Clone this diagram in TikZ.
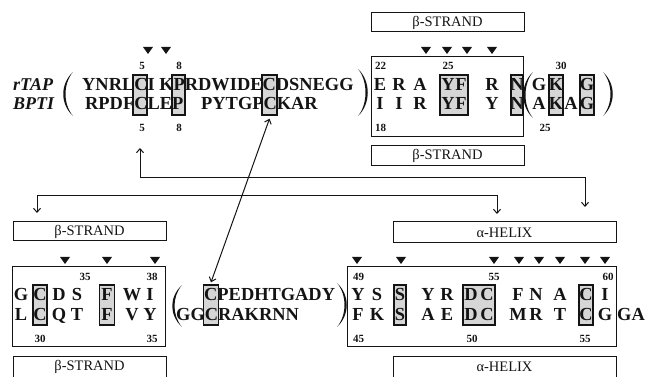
\documentclass[tikz,border=0pt]{standalone}
\usepackage{fontspec}
\setmainfont{Liberation Serif}
\usepackage{xcolor}
\usepackage{tikz}
\usetikzlibrary{calc,positioning,arrows.meta}
\definecolor{SeqInk}{HTML}{141414}
\definecolor{SeqShade}{HTML}{D6D6D6}
\newcommand{\seqfont}{\fontsize{18.4}{18.4}\selectfont\bfseries}
\newcommand{\numfont}{\fontsize{11}{11}\selectfont\bfseries}
\newcommand{\labfont}{\fontsize{14.5}{14.5}\selectfont}
\newcommand{\openpar}[3]{\fill[SeqInk] (#1,#2) .. controls (#1-13,#2+12) and (#1-13,#3-12) .. (#1,#3) .. controls (#1-10,#3-12) and (#1-10,#2+12) .. (#1,#2) -- cycle;}
\newcommand{\closepar}[3]{\fill[SeqInk] (#1,#2) .. controls (#1+13,#2+12) and (#1+13,#3-12) .. (#1,#3) .. controls (#1+10,#3-12) and (#1+10,#2+12) .. (#1,#2) -- cycle;}
\newcommand{\marktri}[2]{\fill[SeqInk] (#1-5,#2-3) -- (#1+5,#2-3) -- (#1,#2+4) -- cycle;}
\tikzset{
  res/.style={anchor=base,font=\seqfont,inner sep=0pt,text=SeqInk},
  seq/.style={anchor=base west,font=\seqfont,inner sep=0pt,text=SeqInk},
  num/.style={anchor=base,font=\numfont,inner sep=0pt,text=SeqInk},
  tag/.style={anchor=base west,font=\fontsize{18}{18}\selectfont\bfseries\itshape,inner sep=0pt,text=SeqInk},
  resbox/.style={draw=SeqInk,fill=SeqShade,line width=1.4pt,inner sep=0pt,minimum height=40pt},
  seqbox/.style={draw=SeqInk,line width=1pt,inner sep=0pt,minimum height=80pt},
  labbox/.style={draw=SeqInk,line width=1pt,inner sep=0pt,font=\labfont,text=SeqInk},
  link/.style={draw=SeqInk,line width=1pt,{Straight Barb[length=4pt,width=7pt]}-{Straight Barb[length=4pt,width=7pt]}},
}

\begin{document}
\begin{tikzpicture}[x=1pt,y=-1pt]
    \useasboundingbox (0,0) rectangle (649,377);
    \clip (0,0) rectangle (649,377);

    % rTAP / BPTI, first part
    \node[tag] (rtap) at (13,91) {rTAP};
    \node[tag] (bpti) at (13,110) {BPTI};
    \openpar{73}{72}{116}
    \node[resbox,minimum width=14pt] (tlc1) at (140,95) {};
    \node[resbox,minimum width=13pt] (tlp) at (178.5,95) {};
    \node[resbox,minimum width=15pt] (tlc2) at (269.5,95) {};
    \node[seq] (rtapseq) at (82,91) {YNRLCI KPRDWIDECDSNEGG};
    \node[seq] (bptia) at (85,110) {RPDFCLEP};
    \node[seq] (bptib) at (201,110) {PYTGPCKAR};
    \foreach \x/\n [count=\i] in {142/5,179/8} {
        \node[num] (tlt\i) at (\x,70) {\n};
        \node[num] (tlb\i) at (\x,132) {\n};
    }
    \foreach \x in {148,166} {\marktri{\x}{50}}
    \closepar{358}{69}{116}

    % first strand
    \node[labbox,minimum width=153pt,minimum height=19pt] (trup) at (447.5,22.5) {β-STRAND};
    \node[seqbox,minimum width=152pt] (trbox) at (447,97) {};
    \node[labbox,minimum width=153pt,minimum height=20pt] (trlow) at (447.5,156) {β-STRAND};
    \node[resbox,minimum width=28pt] (tryf) at (454,95) {};
    \node[resbox,minimum width=12pt] (trn) at (517,95) {};
    \foreach \x/\a/\b [count=\i] in {380/E/I,399/R/I,420/A/R,448/Y/Y,461/F/F,492/R/Y,517/N/N} {
        \node[res] (tra\i) at (\x,91) {\a};
        \node[res] (trb\i) at (\x,110) {\b};
    }
    \foreach \x in {426,447,467,492} {\marktri{\x}{50}}
    \node[num,anchor=base west] (tr22) at (375,70) {22};
    \node[num] (tr25) at (448,70) {25};
    \node[num,anchor=base west] (tr18) at (375,132) {18};
    \openpar{533}{72}{118}
    \node[resbox,minimum width=14pt] (trk) at (556,95) {};
    \node[resbox,minimum width=14pt] (trg) at (587,95) {};
    \foreach \x/\a [count=\i] in {539/G,556/K,587/G} {\node[res] (tga\i) at (\x,91) {\a};}
    \foreach \x/\b [count=\i] in {539/A,556/K,571/A,587/G} {\node[res] (tgb\i) at (\x,110) {\b};}
    \node[num] (tr30) at (561,70) {30};
    \node[num] (tr25b) at (545,132) {25};
    \closepar{603}{72}{116}

    % second strand
    \node[labbox,minimum width=153pt,minimum height=19pt] (blup) at (89.5,231.5) {β-STRAND};
    \node[seqbox,minimum width=153pt] (blbox) at (88.5,307) {};
    \node[labbox,minimum width=153pt,minimum height=22pt] (bllow) at (89.5,367) {β-STRAND};
    \node[resbox,minimum width=14pt] (blc) at (40,305) {};
    \node[resbox,minimum width=15pt] (blf) at (107,305) {};
    \foreach \x/\a/\b [count=\i] in {21/G/L,40/C/C,59/D/Q,77/S/T,107/F/F,132/W/V,150/I/Y} {
        \node[res] (bla\i) at (\x,301) {\a};
        \node[res] (blb\i) at (\x,320) {\b};
    }
    \foreach \x in {65,107,155} {\marktri{\x}{260}}
    \node[num] (bl35) at (85,280) {35};
    \node[num] (bl38) at (152,280) {38};
    \node[num] (bl30) at (40,342) {30};
    \node[num] (bl35b) at (152,342) {35};

    % loop
    \openpar{182}{285}{327}
    \node[resbox,minimum width=15pt] (bmc) at (211,305) {};
    \node[seq] (bmtop) at (204,301) {CPEDHTGADY};
    \node[seq] (bmbot) at (176,320) {GGCRAKRNN};
    \closepar{337}{283}{327}

    % helix
    \node[labbox,minimum width=223pt,minimum height=21pt] (brup) at (504.5,232.5) {α-HELIX};
    \node[seqbox,minimum width=269pt] (brbox) at (481.5,307) {};
    \node[labbox,minimum width=223pt,minimum height=22pt] (brlow) at (504.5,367) {α-HELIX};
    \node[resbox,minimum width=12pt] (brs) at (400,305) {};
    \node[resbox,minimum width=32pt] (brdc) at (479,305) {};
    \node[resbox,minimum width=14pt] (brc) at (586,305) {};
    \foreach \x/\a/\b [count=\i] in {358/Y/F,377/S/K,400/S/S,428/Y/A,447/R/E,471/D/D,487/C/C,518/F/M,536/N/R,560/A/T,586/C/C,605/I/G} {
        \node[res] (bra\i) at (\x,301) {\a};
        \node[res] (brb\i) at (\x,320) {\b};
    }
    \node[seq] (brga) at (617,320) {GA};
    \foreach \x in {357,401,494,519,539,560,585,605} {\marktri{\x}{260}}
    \node[num,anchor=base west] (br49) at (353,280) {49};
    \node[num] (br55) at (494,280) {55};
    \node[num] (br60) at (608,280) {60};
    \node[num,anchor=base west] (br45) at (353,342) {45};
    \node[num] (br50) at (472,342) {50};
    \node[num] (br55b) at (585,342) {55};

    % connectors
    \coordinate (uptip) at (140,148);
    \coordinate (rowa) at (140,178);
    \coordinate (rowb) at (585,178);
    \coordinate (rtip) at (585,207);
    \coordinate (ltip) at (37,213);
    \coordinate (rowc) at (37,196);
    \coordinate (rowd) at (497,196);
    \coordinate (mtip) at (497,214);
    \draw[link] (uptip) -- (rowa) -- (rowb) -- (rtip);
    \draw[link] (ltip) -- (rowc) -- (rowd) -- (mtip);
    \draw[link] ([yshift=-3pt]tlc2.south) -- ([yshift=2pt]bmc.north);
\end{tikzpicture}
\end{document}
